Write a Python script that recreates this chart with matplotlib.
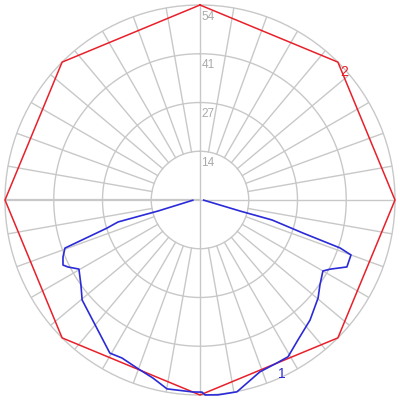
import numpy as np
import matplotlib
matplotlib.use("Agg")
import matplotlib.pyplot as plt

# ---- data ----
r_max = 54
r_ticks = [13.5, 27, 40.5, 54]
r_tick_labels = ["14", "27", "41", "54"]

# series 2 (red octagon)
s2_angles = [0, 45, 90, 135, 180, 225, 270, 315, 360]
s2_values = [54, 54, 54, 54, 54, 54, 54, 54, 54]

# series 1 (blue), compass angle in degrees (clockwise from top)
s1_angles = [92, 105.4, 105.5, 107.8, 108.9, 110.0, 114.5, 118.0, 120.0, 125.3,
             129.7, 137.5, 145.0, 150.7, 154.7, 160.8, 169.1, 174.7, 178.5, 179.4,
             182.1, 189.9, 194.8, 200.0, 206.3, 210.5, 229.7, 234.5, 240.3, 243.1,
             244.6, 247.4, 250.4, 253.2, 255.0, 255.3, 268]
s1_values = [1.0, 11.5, 20.7, 30.0, 41.0, 44.5, 44.7, 40.8, 39.3, 40.7,
             42.5, 45.1, 47.3, 49.8, 49.9, 50.4, 54.1, 54.2, 54.0, 53.2,
             53.2, 53.1, 51.0, 49.8, 48.8, 49.2, 42.8, 40.5, 38.6, 41.0,
             42.0, 41.1, 39.7, 26.9, 23.5, 12.0, 2.0]

series_labels = ["1", "2"]
label1_index = 14
label2_index = 1

grid_color = "#c8c8c8"
text_color = "#aaaaaa"
red = "#e8202a"
blue = "#2a2ad8"

fig = plt.figure(figsize=(4, 4), dpi=100)
ax = fig.add_axes([0.0125, 0.0125, 0.975, 0.975], projection="polar")
ax.set_theta_zero_location("N")
ax.set_theta_direction(-1)
ax.set_ylim(0, r_max)
ax.grid(False)
ax.set_xticks([])
ax.set_yticks([])
ax.spines["polar"].set_color(grid_color)
ax.spines["polar"].set_linewidth(1.0)

# rings
tt = np.linspace(0, 2 * np.pi, 721)
for r in r_ticks[:-1]:
    ax.plot(tt, np.full_like(tt, r), color=grid_color, lw=1.0, zorder=1)

# spokes
for a in range(0, 360, 10):
    start = 0 if a % 90 == 0 else r_ticks[0]
    lw = 1.6 if a == 270 else 1.0
    ax.plot([np.deg2rad(a)] * 2, [start, r_max], color=grid_color, lw=lw, zorder=1)

# radial labels
for r, lab in zip(r_ticks, r_tick_labels):
    ax.annotate(lab, xy=(0, r), xytext=(1, -4), textcoords="offset points",
                ha="left", va="top", color=text_color, fontsize=8.5,
                family="Liberation Sans", zorder=2)

# series
ax.plot(np.deg2rad(s2_angles), s2_values, color=red, lw=1.1, zorder=3, clip_on=False)
ax.plot(np.deg2rad(s1_angles), s1_values, color=blue, lw=1.2, zorder=4, clip_on=False)

ax.annotate(series_labels[1], xy=(np.deg2rad(s2_angles[label2_index]), s2_values[label2_index]),
            xytext=(2, -2), textcoords="offset points", ha="left", va="top",
            color=red, fontsize=10, family="Liberation Sans", zorder=5)
ax.annotate(series_labels[0], xy=(np.deg2rad(s1_angles[label1_index]), s1_values[label1_index]),
            xytext=(1, -3), textcoords="offset points", ha="left", va="top",
            color=blue, fontsize=10, family="Liberation Sans", zorder=5)

fig.savefig("out.png", dpi=100)
